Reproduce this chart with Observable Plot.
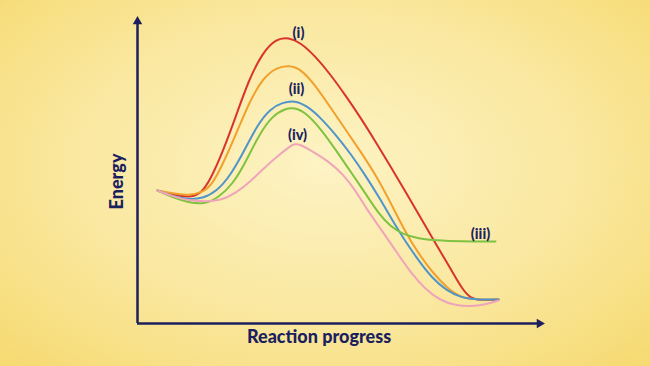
<!DOCTYPE html>
<html>
<head>
<meta charset="utf-8">
<script src="https://cdn.jsdelivr.net/npm/d3@7"></script>
<script src="https://cdn.jsdelivr.net/npm/@observablehq/plot@0.6"></script>
<style>
  html, body { margin: 0; padding: 0; width: 650px; height: 366px; overflow: hidden; }
</style>
</head>
<body>
<div id="chart"></div>
<script>
// Reaction progress (x) and energy (y), arbitrary units
const curveIX   = [20,35,51,63,73,85,98,111,125,139,151,163,178,193,208,223,238,253,268,283,298,313,325,333,345,361];
const curveIY   = [133,129,126,129,144,171,206,243,271,285,286,281,267,249,228,206,182,157,132,106,80,55,34,25,23,24];
const curveOX   = [20,35,51,65,75,87,100,113,126,139,151,163,178,193,208,223,238,253,268,281,295,310,323,338,361];
const curveOY   = [133,130,128,131,139,163,193,224,246,256,258,255,238,216,194,172,149,121,91,70,51,35,26,24,24];
const curveIIX  = [20,35,51,65,79,93,107,120,133,145,157,169,183,198,213,228,243,256,268,281,295,309,323,338,361];
const curveIIY  = [133,127,124,125,132,148,173,199,215,221,223,218,206,189,170,148,124,101,82,63,45,33,26,24,24];
const curveIIIX = [20,35,51,67,81,95,108,121,135,148,157,168,183,198,213,228,241,253,266,281,298,323,358];
const curveIIIY = [133,126,121,119,126,139,161,188,208,215,216,211,195,174,152,130,110,97,89,85,83,82,82];
const curveIVX  = [20,35,51,68,83,98,113,128,141,151,157,163,175,190,206,218,230,243,258,273,288,303,318,333,348,361];
const curveIVY  = [133,127,123,122,123,130,142,157,168,176,180,179,172,163,149,133,113,95,73,51,34,23,18,17,19,23];

const seriesNames  = ["s-i", "s-orange", "s-ii", "s-iii", "s-iv"];
const seriesColors = ["#d9342b", "#f1a02e", "#4f95c9", "#7fc241", "#f0a4ba"];

const labelText = ["(i)", "(ii)", "(iii)", "(iv)"];
const labelX    = [161, 159, 343, 160];
const labelY    = [290, 234, 89, 188];

const xMax = 405, yMax = 305;

const pts = (name, xs, ys) => xs.map((x, i) => ({series: name, x, y: ys[i]}));
const data = [
  ...pts("s-i", curveIX, curveIY),
  ...pts("s-orange", curveOX, curveOY),
  ...pts("s-ii", curveIIX, curveIIY),
  ...pts("s-iii", curveIIIX, curveIIIY),
  ...pts("s-iv", curveIVX, curveIVY)
];
const labels = labelText.map((t, i) => ({t, x: labelX[i], y: labelY[i]}));

const navy = "#1c1f5e";

const chart = Plot.plot({
  width: 650,
  height: 366,
  marginLeft: 137,
  marginRight: 108,
  marginTop: 18,
  marginBottom: 43,
  x: {domain: [0, xMax], axis: null},
  y: {domain: [0, yMax], axis: null},
  color: {type: "ordinal", domain: seriesNames, range: seriesColors},
  style: {
    background: "radial-gradient(ellipse 70% 75% at 50% 45%, #fdf3c4 0%, #fae8a0 55%, #f6da72 100%)",
    fontFamily: "Lato, 'Open Sans', sans-serif"
  },
  marks: [
    Plot.line(data, {x: "x", y: "y", z: "series", stroke: "series", strokeWidth: 2, curve: "basis"}),
    Plot.ruleY([0], {x1: 0, x2: xMax - 4, stroke: navy, strokeWidth: 2.5}),
    Plot.ruleX([0], {y1: 0, y2: yMax - 4, stroke: navy, strokeWidth: 2.5}),
    Plot.dot([{x: xMax - 3, y: 0}], {x: "x", y: "y", symbol: "triangle", r: 3.5, fill: navy, stroke: null, rotate: 90}),
    Plot.dot([{x: 0, y: yMax - 3}], {x: "x", y: "y", symbol: "triangle", r: 3.5, fill: navy, stroke: null}),
    Plot.text(labels, {x: "x", y: "y", text: "t", fill: navy, fontSize: 14.5, fontWeight: "900"}),
    Plot.text(["Reaction progress"], {frameAnchor: "bottom", textAnchor: "middle", dx: -21, dy: 7, lineAnchor: "top", fill: navy, fontSize: 18, fontWeight: "900"}),
    Plot.text(["Energy"], {frameAnchor: "left", textAnchor: "middle", dx: -20, dy: 10.5, rotate: -90, fill: navy, fontSize: 18, fontWeight: "900"})
  ]
});
document.getElementById("chart").appendChild(chart);
</script>
</body>
</html>
